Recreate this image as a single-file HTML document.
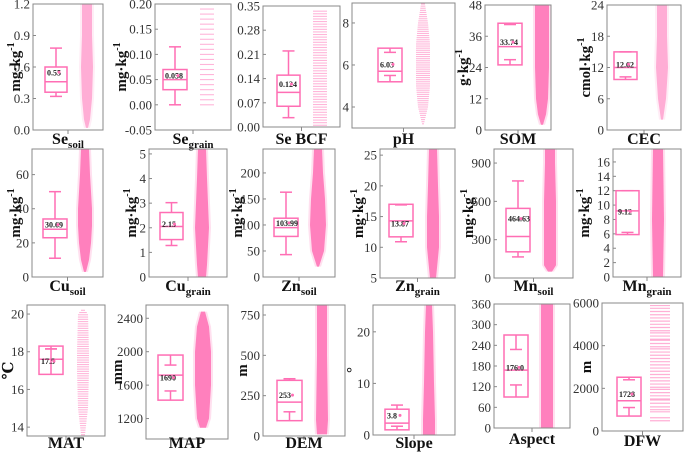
<!DOCTYPE html>
<html><head><meta charset="utf-8"><style>
html,body{margin:0;padding:0;background:#fff;}
svg{display:block;}
text{font-family:"Liberation Serif","DejaVu Serif",serif;}
</style></head><body>
<svg id="c" width="685" height="454" viewBox="0 0 685 454" font-family="Liberation Serif, serif"></svg>
<script>
// ---- data ----
const panelNames = ["Se_soil","Se_grain","Se_BCF","pH","SOM","CEC","Cu_soil","Cu_grain","Zn_soil","Zn_grain","Mn_soil","Mn_grain","MAT","MAP","DEM","Slope","Aspect","DFW"];
const labelMain = ["Se","Se","Se BCF","pH","SOM","CEC","Cu","Cu","Zn","Zn","Mn","Mn","MAT","MAP","DEM","Slope","Aspect","DFW"];
const labelSub = ["soil","grain","","","","","soil","grain","soil","grain","soil","grain","","","","","",""];
const unitLabels = ["mg·kg","mg·kg","","","g·kg","cmol·kg","mg·kg","mg·kg","mg·kg","mg·kg","mg·kg","mg·kg","℃","mm","m","°","","m"];
const yMins = [0,-0.05,0,3,0,0,0,0,0,5,0,0,13.53,955,0,0,0,0];
const yMaxs = [1.2,0.20,0.35,8.95,48,24,75,5.2,246,26,1010,17.8,20.48,2559,812,25.2,360,6000];
const tickVals = [
 [0,0.3,0.6,0.9,1.2],[-0.05,0,0.05,0.10,0.15,0.20],[0,0.07,0.14,0.21,0.28,0.35],[4,6,8],[0,12,24,36,48],[0,6,12,18,24],
 [0,20,40,60],[0,1,2,3,4,5],[0,50,100,150,200],[5,10,15,20,25],[0,300,600,900],[0,2,4,6,8,10,12,14,16],
 [14,16,18,20],[1200,1600,2000,2400],[0,250,500,750],[0,10,20],[0,60,120,180,240,300,360],[0,2000,4000,6000]];
const tickDecimals = [1,2,2,0,0,0,0,0,0,0,0,0,0,0,0,0,0,0];
const q1s = [0.36,0.03,0.06,5.2,25,9.7,23,1.52,78,11.7,205,5.9,16.8,1420,95,1,90,700];
const medians = [0.46,0.05,0.10,5.7,32,12,28,2.05,95,14.3,325,9.2,17.6,1720,210,2.3,168,1420];
const q3s = [0.60,0.07,0.15,6.8,41,15,34,2.62,113,17,545,12,18.3,1960,345,5,270,2520];
const whiskLo = [0.32,0,0.027,5.5,27,10.2,11,1.28,43,10.9,165,6.2,18.15,1530,150,1.7,125,1100];
const whiskHi = [0.78,0.115,0.22,6.6,40.5,15,50,3.02,163,16.9,760,12,18.15,1840,355,5.8,228,2400];
const means = [0.55,0.058,0.124,6.03,33.74,12.62,30.69,2.15,103.99,13.87,464.63,9.12,17.5,1690,253,3.8,176.0,1728];
const meanText = ["0.55","0.058","0.124","6.03","33.74","12.62","30.69","2.15","103.99","13.87","464.63","9.12","17.5","1690","253","3.8","176.0","1728"];
// scatter density profiles: [value, half-width]
const profiles = [
 [[0.02,1],[0.1,3],[0.3,5],[0.6,6],[0.9,5],[1.2,5]],
 [[0,7],[0.19,7]],
 [[0.005,7],[0.335,7]],
 [[3.2,1],[4,5],[5,7],[6,7],[7,7],[8,5],[8.9,2]],
 [[2,1],[6,4],[12,6],[24,7],[36,7],[48,7]],
 [[2,1],[6,4],[12,6],[18,5],[24,5]],
 [[3,1],[10,4],[20,6],[30,7],[40,7],[50,6],[60,5],[75,4]],
 [[0,4],[0.5,5],[2,7],[3,6],[4,5],[5.2,4]],
 [[20,1],[50,6],[100,8],[150,7],[200,5],[246,4]],
 [[5,3],[10,6],[15,6],[20,5],[26,4]],
 [[50,2],[100,6],[300,6],[600,6],[900,5],[1010,5]],
 [[0,5],[8,6],[17.8,5]],
 [[13.6,2],[15,5],[17,6],[18,6],[20,5],[20.2,2]],
 [[1090,3],[1200,6],[1600,8],[2000,8],[2300,6],[2480,2]],
 [[10,5],[100,6],[500,5],[812,5]],
 [[0,6],[3,6],[10,5],[20,4],[25.2,3]],
 [[0,6],[360,6]],
 [[500,10],[5900,10]]];
const bandSteps = [0,0.01,0.0075,0.1,0,0,0,0,0,0,0,0,0.12,0,0,0,0,130];
const dfwBands = [480,620,900,1000,1130,1300,1450,1500,1650,1800,1950,2050,2200,2350,2500,2650,2800,2950,3100,3250,3400,3550,3700,3850,3950,4100,4250,4300,4450,4600,4700,4850,5000,5150,5300,5450,5600,5750,5880];

// ---- layout (pixels) ----
const frames = [
 [33,103,4,130],[155,231,4,130],[263,340,6,127],[352,455,3,128],[485,551,5,130],[607,681,5,130],
 [32,103,149,277],[149,227,149,277],[263,335,149,277],[380,455,149,278],[494,573,149,278],[613,681,149,277],
 [27,105,305,436],[146,228,305,439],[263,345,305,436],[373,455,305,435],[494,570,304,428],[602,683,303,431]];
const boxX = [[45,67],[163,187],[277,300],[378,402],[498,522],[614,637],[43,67],[160,183],[274,298],[389,413],[506,530],[616,639],[39,63],[158,183],[277,302],[385,409],[504,528],[617,641]];
const scatX = [87,207,320,423,542,662,85,202,318,433,550,658,83,203,322,429,547,660];
const unitX = [15,121,0,0,463,585,15,131,237,358,468,584,8,117,242,352,0,586];
const labelY = [144,144,144,144,144,144,291,291,291,291,291,291,448,448,448,448,444,446];

const NS="http://www.w3.org/2000/svg";
const svg=document.getElementById('c');
function mk(tag,attrs,parent){const e=document.createElementNS(NS,tag);for(const k in attrs)e.setAttribute(k,attrs[k]);(parent||svg).appendChild(e);return e;}
const PINK="#ff6eb4";
const FF="Liberation Serif, serif";

panelNames.forEach((nm,i)=>{
  const [x0,x1,y0,y1]=frames[i];
  const g=mk('g',{});
  
  
  const y=v=>y1-(v-yMins[i])/(yMaxs[i]-yMins[i])*(y1-y0);
  const prof=profiles[i];
  const hw=v=>{for(let k=0;k<prof.length-1;k++){if(v>=prof[k][0]&&v<=prof[k+1][0]){const t=(v-prof[k][0])/(prof[k+1][0]-prof[k][0]);return prof[k][1]+t*(prof[k+1][1]-prof[k][1]);}}return 0;};
  const sg=mk('g',{},g);
  
  
  const cx=scatX[i];
  if(nm==="DFW"){
    dfwBands.forEach(v=>{const l=mk('line',{x1:cx-10,x2:cx+10,y1:y(v),y2:y(v),stroke:PINK,'stroke-width':1.2,opacity:0.55},sg);
      
      });
  } else if(bandSteps[i]>0){
    const a=prof[0][0],b=prof[prof.length-1][0];
    for(let v=a;v<=b+1e-9;v+=bandSteps[i]){const w=hw(Math.min(v,b));
      const l=mk('line',{x1:cx-w,x2:cx+w,y1:y(v),y2:y(v),stroke:PINK,'stroke-width':1.1,opacity:0.5},sg);
      
      }
  } else {
    const light=(nm==="Se_soil"||nm==="CEC")?0.5:0.85;
    [[2,0.25],[0,light]].forEach(([ex,op])=>{
      let L=[],R=[];
      prof.forEach(p=>{L.push((cx-p[1]-ex)+','+y(p[0]));R.unshift((cx+p[1]+ex)+','+y(p[0]));});
      const p=mk('polygon',{points:L.concat(R).join(' '),fill:PINK,opacity:op*(ex?light:1)},sg);
      
      
    });
  }
  const fr=mk('rect',{x:x0,y:y0,width:x1-x0,height:y1-y0,fill:'none',stroke:'#888','stroke-width':1},g);
  
  
  tickVals[i].forEach(v=>{
    const ty=y(v);
    mk('line',{x1:x0,x2:x0+3,y1:ty,y2:ty,stroke:'#888'},g);
    const t=mk('text',{x:x0-3,y:ty+4.5,'text-anchor':'end','font-size':13,fill:'#333','font-family':FF},g);
    t.textContent=v.toFixed(tickDecimals[i]);
    
    
  });
  const xc=(x0+x1)/2;
  mk('line',{x1:xc,x2:xc,y1:y1,y2:y1+4,stroke:'#888'},g);
  const [bx0,bx1]=boxX[i];const bc=(bx0+bx1)/2;
  const bg=mk('g',{stroke:PINK,'stroke-width':1.5,fill:'none'},g);
  
  
  mk('rect',{x:bx0,y:y(q3s[i]),width:bx1-bx0,height:y(q1s[i])-y(q3s[i])},bg);
  mk('line',{x1:bx0,x2:bx1,y1:y(medians[i]),y2:y(medians[i])},bg);
  mk('line',{x1:bc,x2:bc,y1:y(q3s[i]),y2:y(whiskHi[i])},bg);
  mk('line',{x1:bc-6,x2:bc+6,y1:y(whiskHi[i]),y2:y(whiskHi[i])},bg);
  mk('line',{x1:bc,x2:bc,y1:y(q1s[i]),y2:y(whiskLo[i])},bg);
  mk('line',{x1:bc-6,x2:bc+6,y1:y(whiskLo[i]),y2:y(whiskLo[i])},bg);
  const mt=mk('text',{x:bx0+2,y:y(means[i])+3,'font-size':8,'font-weight':'bold',fill:'#222','font-family':FF},g);
  mt.textContent=meanText[i];
  
  
  mk('circle',{cx:bc+3,cy:y(means[i]),r:1.5,fill:PINK},g);
  const xl=mk('text',{x:xc,y:labelY[i],'text-anchor':'middle','font-size':16,'font-weight':'bold',fill:'#111','font-family':FF},g);
  
  
  const m=document.createElementNS(NS,'tspan');m.textContent=labelMain[i];xl.appendChild(m);
  if(labelSub[i]){const s=document.createElementNS(NS,'tspan');s.setAttribute('font-size',11);s.setAttribute('dy',4);s.textContent=labelSub[i];xl.appendChild(s);}
  if(unitLabels[i]){
    const ym=(y0+y1)/2;
    const ux=unitX[i]+5;
    const ut=mk('text',{x:ux,y:ym,'text-anchor':'middle','font-size':15,'font-weight':'bold',fill:'#111','font-family':FF,transform:`rotate(-90 ${ux} ${ym})`},g);
    
    
    const a=document.createElementNS(NS,'tspan');a.textContent=unitLabels[i];ut.appendChild(a);
    if(unitLabels[i].indexOf('kg')>=0){const s=document.createElementNS(NS,'tspan');s.setAttribute('font-size',10);s.setAttribute('dy',-6);s.textContent='-1';ut.appendChild(s);}
  }
});
</script>
</body></html>
